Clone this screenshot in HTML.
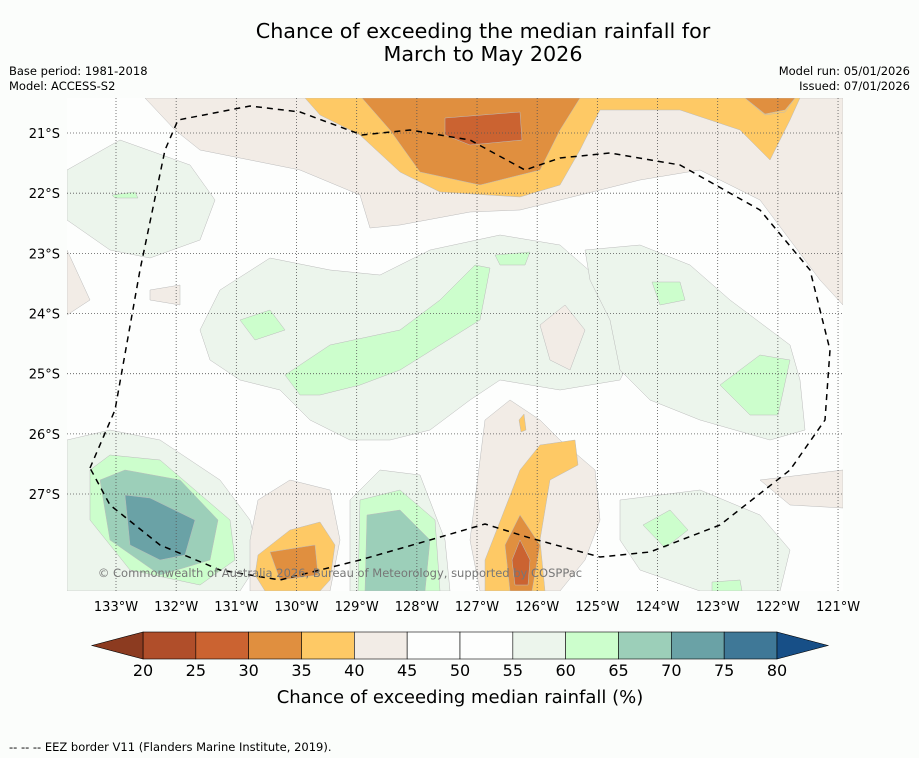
<!DOCTYPE html>
<html><head><meta charset="utf-8">
<style>
body{margin:0;background:#fbfdfb;font-family:"DejaVu Sans","Liberation Sans",sans-serif;}
svg{display:block}
</style></head>
<body>
<svg id="c" width="919" height="758" xmlns="http://www.w3.org/2000/svg" font-family="DejaVu Sans, Liberation Sans, sans-serif">
<rect width="919" height="758" fill="#fbfdfb"/>
<text x="483" y="38" font-size="20.7" text-anchor="middle" fill="#000">Chance of exceeding the median rainfall for</text>
<text x="483" y="61" font-size="20.7" text-anchor="middle" fill="#000">March to May 2026</text>
<text x="9" y="75" font-size="11.5">Base period: 1981-2018</text>
<text x="9" y="90" font-size="11.5">Model: ACCESS-S2</text>
<text x="910" y="75" font-size="11.5" text-anchor="end">Model run: 05/01/2026</text>
<text x="910" y="90" font-size="11.5" text-anchor="end">Issued: 07/01/2026</text>
<defs><clipPath id="mapclip"><rect x="67" y="98" width="776" height="493"/></clipPath></defs>
<g id="map" clip-path="url(#mapclip)">
<rect x="67" y="98" width="776" height="493" fill="#fdfefd"/>
</g>
<g id="grid"></g>
<g id="eez"></g>
<text x="340" y="577" font-size="11.5" fill="#777" text-anchor="middle">© Commonwealth of Australia 2026, Bureau of Meteorology, supported by COSPPac</text>
<g id="xt"></g>
<g id="yt"></g>
<g id="cbar"></g>
<text x="460" y="703" font-size="18" text-anchor="middle">Chance of exceeding median rainfall (%)</text>
<text x="9" y="751" font-size="11.5">--  --  -- EEZ border V11 (Flanders Marine Institute, 2019).</text>
</svg>
<script>
const levels=[20,25,30,35,40,45,50,55,60,65,70,75,80];
const levelColors=["#b04e2a","#cb6331","#e08f3f","#fec965","#f2ece6","#fdfefd","#fdfefd","#ecf5ec","#ccfecc","#9ccfb9","#6aa2a6","#3f7897"];
const lowColor="#8c3b20", highColor="#174f87";
const lonTicks=[133,132,131,130,129,128,127,126,125,124,123,122,121];
const latTicks=[21,22,23,24,25,26,27];
const lonTickLabels=lonTicks.map(v=>v+"°W");
const latTickLabels=latTicks.map(v=>v+"°S");
const regions=[
[4,[145,98,843,98,843,305,820,280,790,240,760,200,700,170,640,180,600,190,560,200,520,210,470,212,400,225,370,228,360,195,300,170,200,150,175,130]],
[4,[67,250,90,300,67,315]],
[4,[150,290,180,285,180,305,150,300]],
[4,[760,480,843,470,843,508,790,505]],
[3,[305,98,800,98,790,120,770,160,740,130,680,110,600,110,580,150,560,185,520,197,440,192,400,172,360,135,320,115]],
[3,[745,98,795,98,785,112,765,115]],
[2,[362,98,580,98,560,130,540,170,480,185,420,172,390,130]],
[2,[745,98,795,98,785,110,765,114]],
[1,[445,118,520,112,522,140,470,145,445,135]],
[7,[67,170,120,140,190,165,215,200,200,240,150,258,110,250,67,220]],
[7,[200,330,220,290,270,258,330,270,380,275,430,250,500,235,560,245,600,280,620,310,640,340,620,380,560,390,500,380,470,400,430,430,390,440,350,440,310,420,280,390,240,380,210,360]],
[7,[585,250,640,245,690,265,730,300,790,345,800,380,805,430,770,440,700,420,650,400,620,370,610,320,590,280]],
[7,[620,500,700,490,760,515,790,550,780,591,700,591,640,570,620,540]],
[7,[67,440,110,430,160,440,220,480,250,520,260,560,240,591,67,591]],
[7,[350,500,380,470,420,475,445,540,450,591,350,591]],
[4,[485,420,510,400,540,420,560,440,595,470,600,520,585,560,560,591,480,591,470,540]],
[4,[258,500,290,480,330,490,340,540,330,591,250,591,250,540]],
[4,[540,325,565,305,585,330,570,370,550,360]],
[8,[285,375,330,345,400,330,440,300,475,265,490,268,480,320,440,345,400,370,360,385,320,395,300,395]],
[8,[240,320,270,310,285,330,255,340]],
[8,[495,255,530,252,525,265,500,265]],
[8,[720,385,760,355,790,360,778,415,750,415]],
[8,[652,282,680,282,685,300,660,305]],
[8,[643,525,670,510,688,530,665,548]],
[8,[712,582,740,580,742,591,712,591]],
[8,[112,195,135,192,138,198,115,198]],
[8,[90,470,110,455,160,460,230,520,235,560,200,585,130,570,90,520]],
[8,[360,500,400,490,435,520,440,591,358,591]],
[9,[100,480,125,470,180,480,218,520,210,560,160,575,110,540]],
[9,[367,515,400,510,430,540,425,591,365,591]],
[10,[125,495,150,498,195,520,185,555,160,560,130,545]],
[3,[258,555,290,530,320,522,335,545,330,580,320,591,265,591,255,575]],
[2,[270,552,315,545,318,575,280,580]],
[3,[485,560,520,470,540,445,575,440,578,465,550,480,540,540,545,591,485,591]],
[2,[505,545,520,515,540,545,532,591,510,591]],
[1,[512,560,520,540,530,560,528,585,515,585]],
[3,[519,420,524,414,526,430,521,432]]
];
const eezPath=[90,468,115,410,140,270,165,150,178,120,250,106,300,112,362,135,410,130,470,140,525,170,560,158,610,153,680,165,760,210,810,270,830,350,825,420,790,470,720,525,650,552,600,557,530,538,485,524,430,540,360,560,280,580,220,570,160,545,110,505,90,468];

const NS="http://www.w3.org/2000/svg";
const xOf=lon=>116+(133-lon)*60.17;
const yOf=lat=>133+(lat-21)*60.17;
const cbX=v=>143+(v-20)*(777-143)/60;
function mk(t,a,p){const e=document.createElementNS(NS,t);for(const k in a)e.setAttribute(k,a[k]);p.appendChild(e);return e;}
const map=document.getElementById('map');
regions.forEach((r,i)=>{
  const pts=[];for(let j=0;j<r[1].length;j+=2)pts.push(r[1][j]+','+r[1][j+1]);
  const p=mk('polygon',{points:pts.join(' '),fill:levelColors[r[0]],stroke:'#bbb','stroke-width':0.5},map);
  
  
});
const grid=document.getElementById('grid');
lonTicks.forEach(l=>{const e=mk('line',{x1:xOf(l),x2:xOf(l),y1:98,y2:591,stroke:'#555','stroke-width':0.8,'stroke-dasharray':'1,2'},grid);
  
  });
latTicks.forEach(l=>{const e=mk('line',{x1:67,x2:843,y1:yOf(l),y2:yOf(l),stroke:'#555','stroke-width':0.8,'stroke-dasharray':'1,2'},grid);
  
  });
const eez=document.getElementById('eez');
let d='';for(let j=0;j<eezPath.length;j+=2)d+=(j?'L':'M')+eezPath[j]+' '+eezPath[j+1];
const ep=mk('path',{d:d,fill:'none',stroke:'#000','stroke-width':1.5,'stroke-dasharray':'6,5','stroke-linejoin':'round'},eez);


const xt=document.getElementById('xt');
lonTicks.forEach((l,i)=>{const t=mk('text',{x:xOf(l),y:611,'font-size':13,'text-anchor':'middle'},xt);t.textContent=lonTickLabels[i];
  
  });
const yt=document.getElementById('yt');
latTicks.forEach((l,i)=>{const t=mk('text',{x:60,y:yOf(l)+5,'font-size':13,'text-anchor':'end'},yt);t.textContent=latTickLabels[i];
  
  });
const cb=document.getElementById('cbar');
for(let i=0;i<levelColors.length;i++){
  const r=mk('rect',{x:cbX(levels[i]),y:632,width:cbX(levels[i+1])-cbX(levels[i]),height:27,fill:levelColors[i],stroke:'#000','stroke-width':0.6},cb);
  
  
}
const lt=mk('polygon',{points:`${cbX(20)},632 92,645.5 ${cbX(20)},659`,fill:lowColor,stroke:'#000','stroke-width':0.6},cb);


const ht=mk('polygon',{points:`${cbX(80)},632 828,645.5 ${cbX(80)},659`,fill:highColor,stroke:'#000','stroke-width':0.6},cb);


levels.forEach(v=>{const t=mk('text',{x:cbX(v),y:676,'font-size':16,'text-anchor':'middle'},cb);t.textContent=v;
  
  });
</script>
</body></html>
